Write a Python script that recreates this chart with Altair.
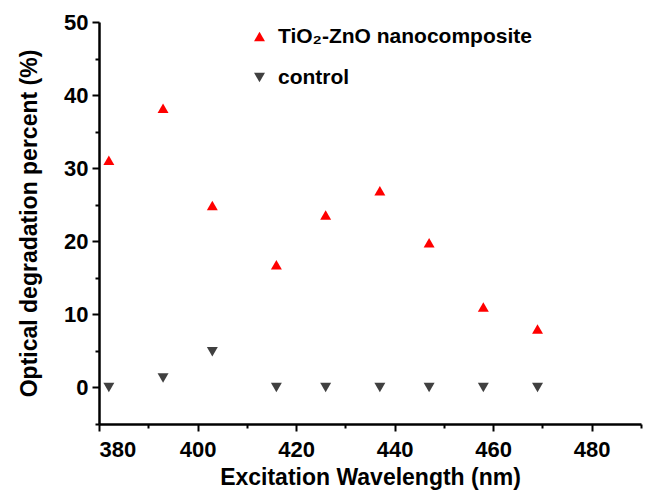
import altair as alt
import pandas as pd

wavelength = [382, 393, 403, 416, 426, 437, 447, 458, 469]
composite = [31.1, 38.2, 24.9, 16.8, 23.6, 26.9, 19.8, 11.0, 8.0]
control = [0.0, 1.3, 4.9, 0.0, 0.0, 0.0, 0.0, 0.0, 0.0]
series_names = ["TiO\u2082-ZnO nanocomposite", "control"]
series_colors = ["#FF0000", "#404040"]
series_shapes = ["triangle-up", "triangle-down"]

x_ticks = list(range(380, 491, 10))
y_ticks = list(range(-5, 51, 5))

rows = []
for w, c in zip(wavelength, composite):
    rows.append({"wl": w, "val": c, "series": series_names[0]})
for w, c in zip(wavelength, control):
    rows.append({"wl": w, "val": c, "series": series_names[1]})
df = pd.DataFrame(rows)

FONT = "Liberation Sans"

chart = alt.Chart(df).mark_point(filled=True, size=120, opacity=1).encode(
    x=alt.X("wl:Q", scale=alt.Scale(domain=[380, 490], nice=False, zero=False),
            axis=alt.Axis(title="Excitation Wavelength (nm)", values=x_ticks,
                          labelExpr="(datum.value - 380) % 20 === 0 ? datum.label : ''",
                          tickSize={"condition": {"test": "(datum.value - 380) % 20 === 0", "value": 7}, "value": 4},
                          grid=False, labelPadding=8, titlePadding=6)),
    y=alt.Y("val:Q", scale=alt.Scale(domain=[-5, 50], nice=False, zero=False),
            axis=alt.Axis(title="Optical degradation percent (%)", values=y_ticks,
                          labelExpr="datum.value % 10 === 0 ? datum.label : ''",
                          tickSize={"condition": {"test": "datum.value % 10 === 0", "value": 7}, "value": 4},
                          grid=False, labelPadding=4, titlePadding=22)),
    color=alt.Color("series:N", scale=alt.Scale(domain=series_names, range=series_colors),
                    legend=alt.Legend(title=None, orient="none", legendX=150, legendY=4,
                                      labelFont=FONT, labelFontSize=21, labelFontWeight="bold",
                                      labelColor="black", symbolSize=120, rowPadding=19,
                                      labelOffset=8, labelLimit=0)),
    shape=alt.Shape("series:N", scale=alt.Scale(domain=series_names, range=series_shapes),
                    legend=None),
).properties(
    width=542, height=402,
    autosize=alt.AutoSizeParams(type="none"),
    padding={"left": 99, "top": 22, "right": 8, "bottom": 68},
).configure_view(stroke=None).configure_axis(
    domainColor="black", domainWidth=2.5, tickColor="black", tickWidth=2,
    labelFont=FONT, labelFontSize=22, labelFontWeight="bold", labelColor="black",
    titleFont=FONT, titleFontSize=23, titleFontWeight="bold", titleColor="black",
)

chart.save("out.html", embed_options={"renderer": "svg", "actions": False})
